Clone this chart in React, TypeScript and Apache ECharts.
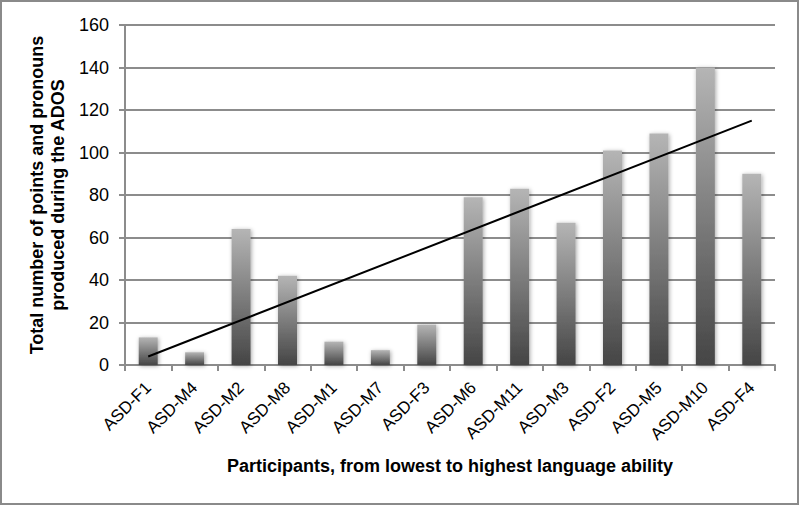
import React, { useEffect, useRef } from "react";
import * as echarts from "echarts";

const categories = [
  "ASD-F1", "ASD-M4", "ASD-M2", "ASD-M8", "ASD-M1", "ASD-M7", "ASD-F3",
  "ASD-M6", "ASD-M11", "ASD-M3", "ASD-F2", "ASD-M5", "ASD-M10", "ASD-F4",
];
const totals = [13, 6, 64, 42, 11, 7, 19, 79, 83, 67, 101, 109, 140, 90];
// linear trend line: start and end values
const trendStart = 4;
const trendEnd = 115;
const yTicks = { min: 0, max: 160, interval: 20 };

export default function App() {
  const ref = useRef<HTMLDivElement>(null);
  useEffect(() => {
    if (!ref.current) return;
    const chart = echarts.init(ref.current, null, { renderer: "svg" });
    const trend = categories.map((_, i) =>
      i === 0 ? trendStart : i === categories.length - 1 ? trendEnd : "-"
    );
    const font = "Liberation Sans, Arial, sans-serif";
    chart.setOption({
      animation: false,
      backgroundColor: "#ffffff",
      graphic: [
        {
          type: "rect",
          shape: { x: 1, y: 1, width: 797, height: 503 },
          style: { fill: "none", stroke: "#8a8a8a", lineWidth: 2 },
          silent: true,
        },
      ],
      grid: { left: 125, right: 25, top: 25, bottom: 141 },
      xAxis: {
        type: "category",
        data: categories,
        boundaryGap: true,
        name: "Participants, from lowest to highest language ability",
        nameLocation: "middle",
        nameGap: 92,
        nameTextStyle: { fontFamily: font, fontSize: 18, fontWeight: "bold", color: "#000" },
        axisLine: { lineStyle: { color: "#8c8c8c", width: 2 } },
        axisTick: { show: true, length: 6, alignWithLabel: false, lineStyle: { color: "#8c8c8c", width: 2 } },
        axisLabel: {
          rotate: 45,
          interval: 0,
          fontFamily: font,
          fontSize: 17,
          color: "#000",
          margin: 20,
        },
      },
      yAxis: {
        type: "value",
        min: yTicks.min,
        max: yTicks.max,
        interval: yTicks.interval,
        name: "Total number of points and pronouns\nproduced during the ADOS",
        nameLocation: "middle",
        nameGap: 57,
        nameTextStyle: {
          fontFamily: font,
          fontSize: 18,
          fontWeight: "bold",
          color: "#000",
          lineHeight: 21,
        },
        axisLine: { show: true, lineStyle: { color: "#8c8c8c", width: 2 } },
        axisTick: { show: true, length: 6, lineStyle: { color: "#8c8c8c", width: 2 } },
        axisLabel: { fontFamily: font, fontSize: 18, color: "#000", margin: 16 },
        splitLine: { lineStyle: { color: "#8c8c8c", width: 2 } },
      },
      series: [
        {
          type: "bar",
          data: totals,
          barWidth: 19,
          itemStyle: {
            color: new echarts.graphic.LinearGradient(0, 0, 0, 1, [
              { offset: 0, color: "#b5b5b5" },
              { offset: 1, color: "#454545" },
            ]),
            shadowColor: "rgba(0,0,0,0.35)",
            shadowBlur: 4,
            shadowOffsetX: 1,
            shadowOffsetY: 1,
          },
          z: 2,
        },
        {
          type: "line",
          data: trend,
          connectNulls: true,
          symbol: "none",
          lineStyle: { color: "#000", width: 2 },
          z: 3,
        },
      ],
    });
    return () => chart.dispose();
  }, []);
  return (
    <div
      ref={ref}
      style={{ position: "fixed", left: 0, top: 0, width: 800, height: 506 }}
    />
  );
}
